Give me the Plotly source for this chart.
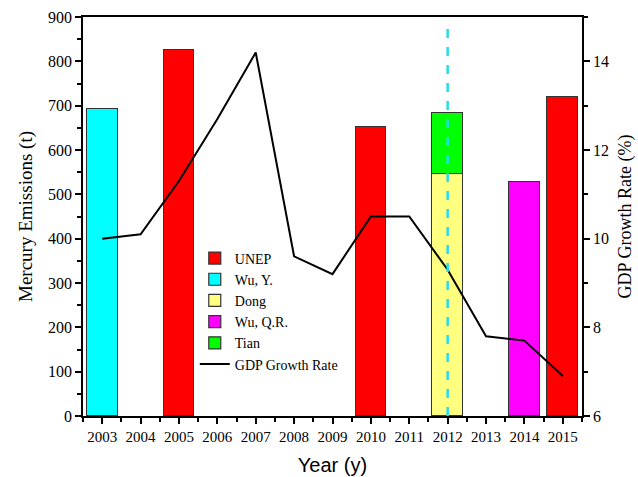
import plotly.graph_objects as go

# Mercury emission estimates by source (t)
unep_years = [2005, 2010, 2015]
unep_vals = [825, 652, 720]
wuy_years = [2003]
wuy_vals = [693]
dong_years = [2012]
dong_vals = [545]
wuqr_years = [2014]
wuqr_vals = [528]
tian_years = [2012]
tian_vals = [138]

# China GDP growth rate (%)
gdp_years = [2003, 2004, 2005, 2006, 2007, 2008, 2009, 2010, 2011, 2012, 2013, 2014, 2015]
gdp_rate = [10.0, 10.1, 11.3, 12.7, 14.2, 9.6, 9.2, 10.5, 10.5, 9.3, 7.8, 7.7, 6.9]

year_ticks = list(range(2003, 2016))

SERIF = "Liberation Serif, Times New Roman, serif"
SANS = "Liberation Sans, Arial, sans-serif"
edge = dict(color="#333333", width=1.2)

fig = go.Figure()

def add_bar(name, xs, ys, color):
    fig.add_trace(go.Bar(
        name=name, x=xs, y=ys, width=0.8,
        marker=dict(color=color, line=edge),
        yaxis="y",
    ))

add_bar("UNEP", unep_years, unep_vals, "#FF0000")
add_bar("Wu, Y.", wuy_years, wuy_vals, "#00FFFF")
add_bar("Dong", dong_years, dong_vals, "#FFFF80")
add_bar("Wu, Q.R.", wuqr_years, wuqr_vals, "#FF00FF")
add_bar("Tian", tian_years, tian_vals, "#00FF00")

fig.add_trace(go.Scatter(
    name="GDP Growth Rate", x=gdp_years, y=gdp_rate, mode="lines",
    line=dict(color="black", width=2), yaxis="y2",
))

# dashed marker at 2012
fig.add_shape(type="line", x0=2012, x1=2012, y0=0, y1=880, xref="x", yref="y",
              line=dict(color="#22DDEE", width=2.5, dash="dash"), layer="above")

axis_common = dict(
    showline=True, linecolor="black", linewidth=1.5,
    ticks="outside", tickcolor="black", tickwidth=1.5, ticklen=6,
    showgrid=False, zeroline=False, automargin=False,
    tickfont=dict(family=SERIF, size=16, color="black"),
)

fig.update_layout(
    width=638, height=477,
    margin=dict(l=83, r=56, t=17, b=61),
    paper_bgcolor="white", plot_bgcolor="white",
    barmode="stack",
    bargap=0,
    showlegend=True,
    legend=dict(
        x=0.224, y=0.435, xanchor="left", yanchor="top",
        traceorder="normal",
        bgcolor="rgba(255,255,255,0)", borderwidth=0,
        font=dict(family=SERIF, size=14, color="black"),
        tracegroupgap=0,
    ),
    xaxis=dict(
        axis_common,
        range=[2002.5, 2015.5], tickvals=year_ticks, ticktext=[str(y) for y in year_ticks],
        mirror=True,
        tickfont=dict(family=SERIF, size=15, color="black"),
        minor=dict(dtick=0.5, tick0=2002.5, ticks="outside", ticklen=4, tickcolor="black", tickwidth=1.5),
        title=dict(text="Year (y)", font=dict(family=SANS, size=20, color="black"), standoff=14),
    ),
    yaxis=dict(
        axis_common,
        range=[0, 900], dtick=100,
        minor=dict(dtick=50, ticks="outside", ticklen=4, tickcolor="black", tickwidth=1.5),
        title=dict(text="Mercury Emissions (t)", font=dict(family=SERIF, size=19, color="black"), standoff=10),
    ),
    yaxis2=dict(
        axis_common,
        overlaying="y", side="right", anchor="x",
        range=[6, 15], tickvals=[6, 8, 10, 12, 14],
        minor=dict(dtick=1, ticks="outside", ticklen=4, tickcolor="black", tickwidth=1.5),
        title=dict(text="GDP Growth Rate (%)", font=dict(family=SERIF, size=18, color="black"), standoff=10),
    ),
)

fig.write_html("out.html")
